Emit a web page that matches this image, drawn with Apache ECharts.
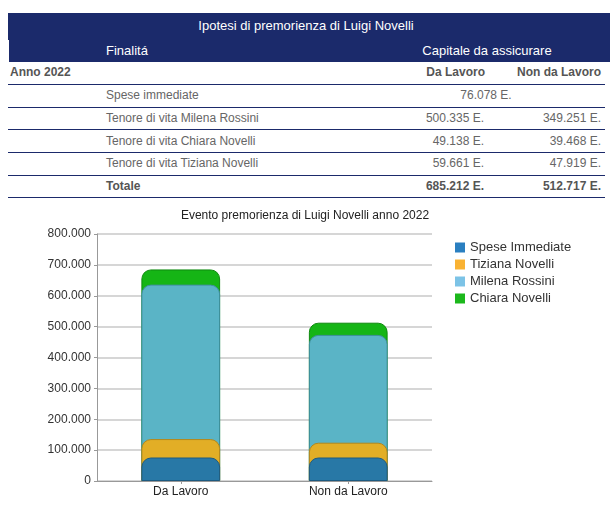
<!DOCTYPE html>
<html>
<head>
<meta charset="utf-8">
<script src="https://cdn.jsdelivr.net/npm/echarts@6/dist/echarts.min.js"></script>
<style>
  html, body { margin: 0; padding: 0; background: #fff; }
  body { width: 610px; height: 505px; position: relative; overflow: hidden; font-family: Arial, "Liberation Sans", sans-serif; }
  .abs { position: absolute; white-space: nowrap; }
  .band { position: absolute; background: #1b2a6b; }
  .line { position: absolute; left: 8px; width: 597px; height: 1px; background: #1b2a6b; }
  .hdr { color: #fff; font-size: 13px; }
  .cell { color: #666; font-size: 12px; }
  .b { font-weight: bold; color: #555; }
  #chart { position: absolute; left: 0; top: 200px; width: 610px; height: 305px; }
</style>
</head>
<body>
<div class="band" style="left:8px;top:13px;width:602px;height:27px;"></div>
<div class="band" style="left:9px;top:39px;width:601px;height:23px;"></div>
<div id="tbl"></div>
<div id="chart"></div>
<script>
// ---- Data ----
var tableTitle = "Ipotesi di premorienza di Luigi Novelli";
var colHeadLeft = "Finalitá";
var colHeadRight = "Capitale da assicurare";
var yearLabel = "Anno 2022";
var categories = ["Da Lavoro", "Non da Lavoro"];
var rowLabels = ["Spese immediate", "Tenore di vita Milena Rossini", "Tenore di vita Chiara Novelli", "Tenore di vita Tiziana Novelli"];
var rowDaLavoro = ["76.078 E.", "500.335 E.", "49.138 E.", "59.661 E."];
var rowNonDaLavoro = ["", "349.251 E.", "39.468 E.", "47.919 E."];
var totalLabel = "Totale";
var totals = ["685.212 E.", "512.717 E."];

var chartTitle = "Evento premorienza di Luigi Novelli anno 2022";
var seriesNames = ["Spese Immediate", "Tiziana Novelli", "Milena Rossini", "Chiara Novelli"];
var speseImmediate = [76078, 76078];
var tizianaNovelli = [59661, 47919];
var milenaRossini = [500335, 349251];
var chiaraNovelli = [49138, 39468];
var yTicks = [0, 100000, 200000, 300000, 400000, 500000, 600000, 700000, 800000];

// ---- Table ----
(function () {
  var t = document.getElementById('tbl');
  function add(txt, cls, style) {
    var d = document.createElement('div');
    d.className = 'abs ' + cls;
    d.textContent = txt;
    d.setAttribute('style', style);
    t.appendChild(d);
  }
  function line(top) {
    var d = document.createElement('div');
    d.className = 'line';
    d.style.top = top + 'px';
    t.appendChild(d);
  }
  add(tableTitle, 'hdr', 'left:106px;width:400px;text-align:center;top:18px;');
  add(colHeadLeft, 'hdr', 'left:106px;top:43px;');
  add(colHeadRight, 'hdr', 'left:387px;width:200px;text-align:center;top:43px;');
  add(yearLabel, 'cell b', 'left:10px;top:65px;');
  add(categories[0], 'cell b', 'right:' + (610 - 485) + 'px;top:65px;');
  add(categories[1], 'cell b', 'right:' + (610 - 601) + 'px;top:65px;');
  line(84);
  var centers = [95, 118, 141, 163];
  var lines = [107, 129, 152, 175];
  for (var i = 0; i < rowLabels.length; i++) {
    var top = centers[i] - 7;
    add(rowLabels[i], 'cell', 'left:106px;top:' + top + 'px;');
    if (rowNonDaLavoro[i] === '') {
      add(rowDaLavoro[i], 'cell', 'left:386px;width:200px;text-align:center;top:' + top + 'px;');
    } else {
      add(rowDaLavoro[i], 'cell', 'right:' + (610 - 484) + 'px;top:' + top + 'px;');
      add(rowNonDaLavoro[i], 'cell', 'right:' + (610 - 601) + 'px;top:' + top + 'px;');
    }
    line(lines[i]);
  }
  add(totalLabel, 'cell b', 'left:106px;top:179px;');
  add(totals[0], 'cell b', 'right:' + (610 - 484) + 'px;top:179px;');
  add(totals[1], 'cell b', 'right:' + (610 - 601) + 'px;top:179px;');
  line(197);
})();

// ---- Chart ----
var stackParts = [speseImmediate, tizianaNovelli, milenaRossini, chiaraNovelli];
var barColors = ['#2878a6', '#e2ae26', '#5ab4c6', '#15b515'];
var borderColors = ['#1d5a80', '#b5871a', '#3f8e9e', '#0f8a0f'];
var legendColors = ['#2a7fc0', '#f9b233', '#7cc3e6', '#1cb81c'];

function fmt(v) {
  return String(v).replace(/\B(?=(\d{3})+(?!\d))/g, '.');
}

var series = [];
var cum = [0, 0];
for (var s = 0; s < stackParts.length; s++) {
  cum = cum.map(function (c, k) { return c + stackParts[s][k]; });
  series.push({
    name: seriesNames[s],
    type: 'bar',
    data: cum.slice(),
    barWidth: '47%',
    barGap: '-100%',
    z: 10 - s,
    itemStyle: {
      color: barColors[s],
      borderColor: borderColors[s],
      borderWidth: 1,
      borderRadius: [9, 9, 0, 0]
    },
    emphasis: { disabled: true }
  });
}

var chart = echarts.init(document.getElementById('chart'), null, { renderer: 'canvas' });
chart.setOption({
  animation: false,
  textStyle: { fontFamily: 'Arial, "Liberation Sans", sans-serif' },
  title: {
    text: chartTitle,
    left: 'center',
    top: 10,
    padding: 0,
    textStyle: { fontSize: 12, fontWeight: 'normal', color: '#222' }
  },
  legend: {
    orient: 'vertical',
    left: 455,
    top: 41,
    padding: 0,
    itemWidth: 10,
    itemHeight: 10,
    itemGap: 4,
    itemTextGap: 6,
    icon: 'rect',
    textStyle: { fontSize: 13, color: '#333' },
    data: seriesNames.map(function (n, i) {
      return { name: n, itemStyle: { color: legendColors[i], borderWidth: 0 } };
    })
  },
  grid: { left: 97, right: 178, top: 34, bottom: 24, containLabel: false },
  xAxis: {
    type: 'category',
    data: categories,
    axisLine: { lineStyle: { color: '#999' } },
    axisTick: { show: true, alignWithLabel: true, length: 3, lineStyle: { color: '#999' } },
    axisLabel: { fontSize: 12, color: '#222', margin: 5 }
  },
  yAxis: {
    type: 'value',
    min: yTicks[0],
    max: yTicks[yTicks.length - 1],
    interval: yTicks[1] - yTicks[0],
    axisLine: { show: true, lineStyle: { color: '#999' } },
    axisTick: { show: true, length: 3, lineStyle: { color: '#999' } },
    axisLabel: { fontSize: 12, color: '#333', margin: 6, formatter: function (v) { return fmt(v); } },
    splitLine: { lineStyle: { color: '#c8c8c8', width: 1.5 } }
  },
  series: series
});
</script>
</body>
</html>
